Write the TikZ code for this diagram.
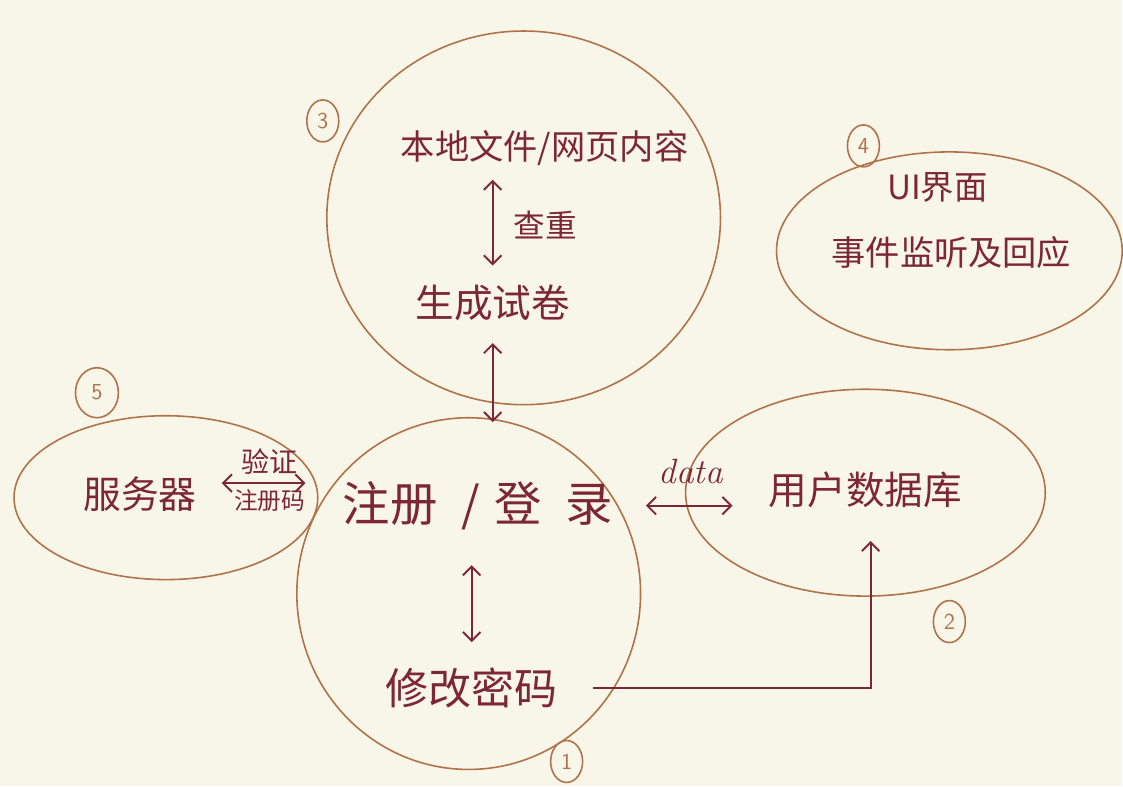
\documentclass[tikz,border=0pt]{standalone}
\usepackage{fontspec}
\newfontfamily\cjk{Noto Sans CJK SC}
\usetikzlibrary{arrows.meta,shapes.geometric,positioning}
\definecolor{papier}{HTML}{F8F5E9}
\definecolor{rand}{HTML}{B07248}
\definecolor{tinte}{HTML}{7D2735}
\tikzset{
  modul/.style={ellipse,draw=rand,line width=0.9pt,inner sep=0pt},
  nummer/.style={ellipse,draw=rand,text=rand,line width=0.9pt,inner sep=0pt,minimum width=0.64cm,minimum height=0.84cm,font=\sffamily\fontsize{13}{13}\selectfont},
  txt/.style={text=tinte,inner sep=0pt,font=\cjk\fontsize{#1}{#1}\selectfont},
  txt/.default=20,
  pfeil/.style={tinte,line width=1.1pt,{Straight Barb[length=5pt,width=10pt]}-{Straight Barb[length=5pt,width=10pt]}},
  einpfeil/.style={tinte,line width=1.1pt,-{Straight Barb[length=5pt,width=10pt]}}
}
\begin{document}
\begin{tikzpicture}[x=0.02cm,y=-0.02cm]
\fill[papier] (0,0) rectangle (1123,787);
\node[modul,minimum width=7.88cm,minimum height=7.48cm] (m3) at (524,218) {};
\node[modul,minimum width=6.92cm,minimum height=3.96cm] (m4) at (950,251) {};
\node[modul,minimum width=6.08cm,minimum height=3.28cm] (m5) at (166,498) {};
\node[modul,minimum width=6.88cm,minimum height=7.04cm] (m1) at (469,594) {};
\node[modul,minimum width=7.2cm,minimum height=4.14cm] (m2) at (866,493) {};
\node[nummer] (n3) at (323,121) {3}; \node[nummer] (n4) at (864,146) {4};
\node[nummer,minimum width=0.86cm,minimum height=1cm] (n5) at (97,393) {5};
\node[nummer] (n1) at (567,762) {1}; \node[nummer] (n2) at (950,622) {2};
\node[txt=19.5] (lokal) at (545,148) {本地文件/网页内容};
\node[txt=22] (shijuan) at (493,303) {生成试卷};
\node[txt=19] (ui) at (938,188) {UI界面};
\node[txt=19.5] (shijian) at (952,253) {事件监听及回应};
\node[txt=21.5] (server) at (140,494) {服务器};
\node[txt=27] (login) at (478,506) {注册\hspace{0.5em}/\hspace{0.3em}登\hspace{0.5em}录};
\node[txt=22] (db) at (866,490) {用户数据库};
\node[txt=24.5] (passwd) at (472,688) {修改密码};
\draw[pfeil,shorten <=0.38cm,shorten >=0.28cm] (shijuan.north) -- node[txt=18,right=0.4cm] (chachong) {查重} (shijuan.north |- lokal.south);
\draw[pfeil,shorten <=0.44cm,shorten >=1.18cm] (shijuan.south) -- (shijuan.south |- login.north);
\draw[pfeil,shorten <=0.5cm,shorten >=0.7cm] (passwd.north) -- (passwd.north |- login.south);
\draw[pfeil,shorten <=0.5cm,shorten >=0.74cm] ([yshift=6pt]server.east) -- node[txt=16,above=0.15cm] (yanzheng) {验证} node[txt=13.5,below=0.1cm] (zcm) {注册码} ([yshift=6pt]server.east -| login.west);
\draw[pfeil,shorten <=0.66cm,shorten >=0.72cm] (login.east) -- node[above=0.3cm,text=tinte,font=\itshape\fontsize{20}{20}\selectfont] (data) {data} (login.east -| db.west);
\draw[einpfeil,shorten <=0.7cm,shorten >=0.66cm] (passwd.east) -| ([xshift=3pt]db.south);
\end{tikzpicture}
\end{document}
